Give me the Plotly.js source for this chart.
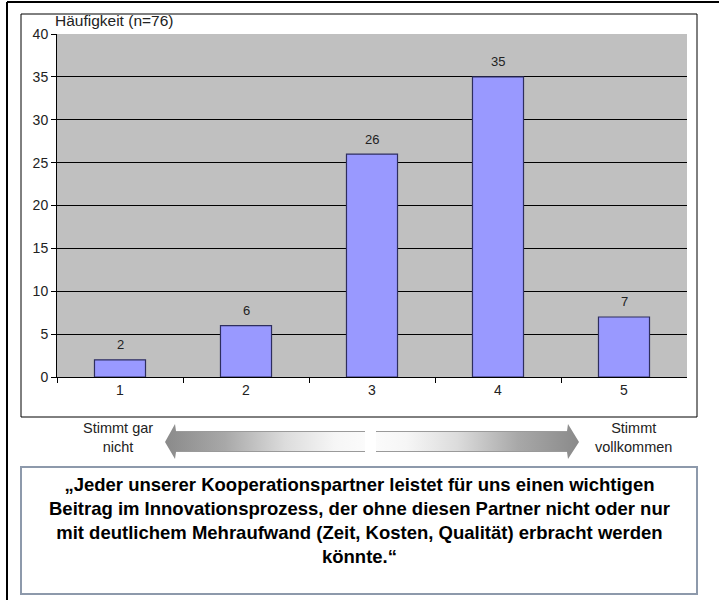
<!DOCTYPE html>
<html>
<head>
<meta charset="utf-8">
<script src="https://cdn.plot.ly/plotly-3.0.1.min.js"></script>
<style>html,body{margin:0;padding:0;background:#fff;}#chart{width:719px;height:600px;}</style>
</head>
<body>
<div id="chart"></div>
<script>
// ---- data ----
const categories = ['1', '2', '3', '4', '5'];
const counts = [2, 6, 26, 35, 7];
const yTitle = 'Häufigkeit (n=76)';
const leftLabel = 'Stimmt gar<br>nicht';
const rightLabel = 'Stimmt<br>vollkommen';
const statement = '„Jeder unserer Kooperationspartner leistet für uns einen wichtigen<br>Beitrag im Innovationsprozess, der ohne diesen Partner nicht oder nur<br>mit deutlichem Mehraufwand (Zeit, Kosten, Qualität) erbracht werden<br>könnte.“';

const W = 719, H = 600;
const px = x => x / W;
const py = y => 1 - y / H;

const FONT = 'Liberation Sans, Arial, sans-serif';

const svg = "<svg xmlns='http://www.w3.org/2000/svg' width='425' height='42' viewBox='160 420 425 42' preserveAspectRatio='none'>" +
  "<defs>" +
  "<linearGradient id='gl' x1='165' y1='0' x2='365' y2='0' gradientUnits='userSpaceOnUse'>" +
  "<stop offset='0' stop-color='#8a8a8a'/><stop offset='0.3' stop-color='#a8a8a8'/><stop offset='0.6' stop-color='#dcdcdc'/><stop offset='0.85' stop-color='#f6f6f6'/><stop offset='1' stop-color='#fbfbfb'/></linearGradient>" +
  "<linearGradient id='gr' x1='376' y1='0' x2='579' y2='0' gradientUnits='userSpaceOnUse'>" +
  "<stop offset='0' stop-color='#fbfbfb'/><stop offset='0.15' stop-color='#f6f6f6'/><stop offset='0.4' stop-color='#dcdcdc'/><stop offset='0.7' stop-color='#a8a8a8'/><stop offset='1' stop-color='#8a8a8a'/></linearGradient>" +
  "</defs>" +
  "<path d='M165,442 L175,424 L176,431 L365,431 L365,452 L176,452 L175,459 Z' fill='url(#gl)'/>" +
  "<path d='M579,442 L568,424 L567,431 L376,431 L376,452 L567,452 L568,459 Z' fill='url(#gr)'/>" +
  "<line x1='176' y1='431.5' x2='365' y2='431.5' stroke='#9a9a9a' stroke-width='1'/>" +
  "<line x1='176' y1='451.5' x2='365' y2='451.5' stroke='#9a9a9a' stroke-width='1'/>" +
  "<line x1='376' y1='431.5' x2='567' y2='431.5' stroke='#9a9a9a' stroke-width='1'/>" +
  "<line x1='376' y1='451.5' x2='567' y2='451.5' stroke='#9a9a9a' stroke-width='1'/>" +
  "</svg>";

const trace = {
  type: 'bar',
  x: categories,
  y: counts,
  marker: { color: '#9999ff', line: { color: '#2e2e5e', width: 1.2 } },
  width: 0.405,
  hoverinfo: 'skip'
};

// value labels placed at the category index of each bar
const valueAnnotations = categories.map((c, i) => ({
  x: i, y: counts[i], xref: 'x', yref: 'y',
  text: String(counts[i]), showarrow: false,
  yanchor: 'middle', yshift: 15,
  font: { family: FONT, size: 13, color: '#222' }
}));

const layout = {
  width: W, height: H,
  margin: { l: 0, r: 0, t: 0, b: 0 },
  paper_bgcolor: '#ffffff',
  plot_bgcolor: '#c0c0c0',
  showlegend: false,
  xaxis: {
    type: 'category',
    categoryorder: 'array', categoryarray: categories,
    range: [-0.5, categories.length - 0.5],
    domain: [px(57), px(687)],
    tickson: 'boundaries',
    ticks: 'outside', ticklen: 5, tickcolor: '#000', tickwidth: 1,
    showline: true, linecolor: '#000', linewidth: 1,
    showgrid: false, zeroline: false,
    tickfont: { family: FONT, size: 14, color: '#222' },
    fixedrange: true
  },
  yaxis: {
    domain: [py(377), py(34)],
    range: [0, 40], dtick: 5, tick0: 0,
    ticks: 'outside', ticklen: 5, tickcolor: '#000', tickwidth: 1,
    showline: true, linecolor: '#000', linewidth: 1,
    showgrid: true, gridcolor: '#000', gridwidth: 1,
    zeroline: false,
    tickfont: { family: FONT, size: 14, color: '#222' },
    fixedrange: true
  },
  images: [{
    source: 'data:image/svg+xml;charset=utf-8,' + encodeURIComponent(svg),
    xref: 'paper', yref: 'paper',
    x: px(160), y: py(420), sizex: 425 / W, sizey: 42 / H,
    xanchor: 'left', yanchor: 'top', sizing: 'stretch', layer: 'above'
  }],
  shapes: [
    { type: 'line', xref: 'paper', yref: 'paper', x0: px(7), x1: px(719), y0: py(2), y1: py(2), line: { color: '#000', width: 2 } },
    { type: 'line', xref: 'paper', yref: 'paper', x0: px(7), x1: px(7), y0: py(2), y1: py(600), line: { color: '#000', width: 2 } },
    { type: 'rect', xref: 'paper', yref: 'paper', x0: px(21), x1: px(697), y0: py(417), y1: py(14), line: { color: '#000', width: 1 } },
    { type: 'rect', xref: 'paper', yref: 'paper', x0: px(21), x1: px(697), y0: py(594), y1: py(467), line: { color: '#8d99ab', width: 2 }, fillcolor: 'rgba(0,0,0,0)' }
  ],
  annotations: [
    { xref: 'paper', yref: 'paper', x: px(53), y: py(10), xanchor: 'left', yanchor: 'top', text: yTitle, showarrow: false, font: { family: FONT, size: 15.5, color: '#222' } },
    { xref: 'paper', yref: 'paper', x: px(118), y: py(437), xanchor: 'center', yanchor: 'middle', text: leftLabel, showarrow: false, font: { family: FONT, size: 14.5, color: '#222' } },
    { xref: 'paper', yref: 'paper', x: px(633), y: py(437), xanchor: 'center', yanchor: 'middle', text: rightLabel, showarrow: false, font: { family: FONT, size: 14.5, color: '#222' } },
    { xref: 'paper', yref: 'paper', x: px(359), y: py(520), xanchor: 'center', yanchor: 'middle', text: '<b>' + statement + '</b>', showarrow: false, font: { family: FONT, size: 18.5, color: '#000' } }
  ].concat(valueAnnotations)
};

Plotly.newPlot('chart', [trace], layout, { displayModeBar: false, staticPlot: true });
</script>
</body>
</html>
